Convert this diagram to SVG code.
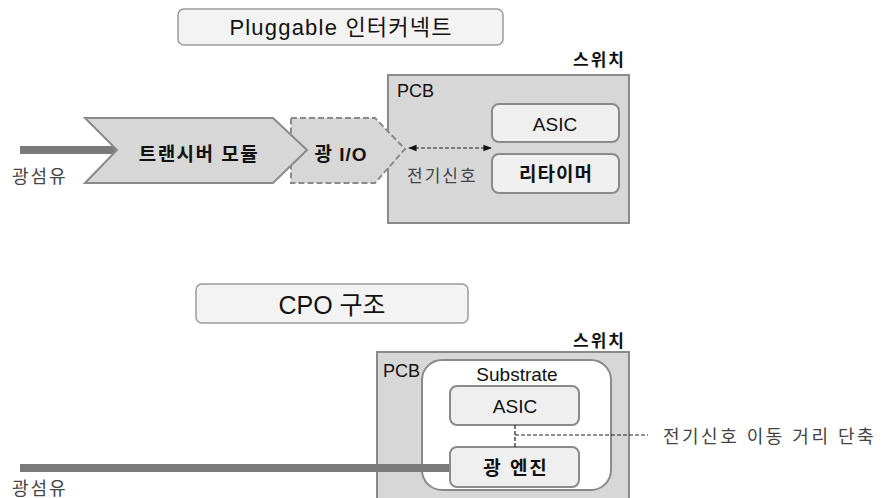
<svg xmlns="http://www.w3.org/2000/svg" width="886" height="498" viewBox="0 0 886 498">
<defs>
<style>
text{font-family:"Liberation Sans","Noto Sans CJK KR",sans-serif;fill:#111}
.title{fill:#f3f3f3;stroke:#9a9a9a;stroke-width:1.5}
.pcb{fill:#d7d7d7;stroke:#8a8a8a;stroke-width:2}
.box{fill:#efefef;stroke:#8a8a8a;stroke-width:2}
.fiber{stroke:#7a7a7a;stroke-width:8;fill:none}
.gray{fill:#444}
.bold{font-weight:bold}
.dash{stroke:#222;stroke-width:1.2;stroke-dasharray:4 2;fill:none}
</style>
<marker id="ah" viewBox="0 0 10 10" refX="9" refY="5" markerWidth="7" markerHeight="7" orient="auto-start-reverse">
<path d="M0,1 L10,5 L0,9 z" fill="#111"/>
</marker>
</defs>
<rect width="886" height="498" fill="#fff"/>

<g id="title1">
<rect class="title" x="178" y="9" width="325" height="36" rx="6"/>
<text x="341" y="35" font-size="22" letter-spacing="1.2" text-anchor="middle">Pluggable 인터커넥트</text>
</g>

<g id="switch1">
<text x="626" y="66" font-size="17" letter-spacing="2" text-anchor="end" class="bold">스위치</text>
</g>
<g id="pcb1">
<rect class="pcb" x="388" y="75" width="241" height="148"/>
<text x="397" y="97" font-size="18">PCB</text>
</g>

<g id="fiber1">
<line class="fiber" x1="20" y1="150" x2="118" y2="150"/>
<text x="12" y="183" font-size="18" letter-spacing="2" class="gray">광섬유</text>
</g>

<g id="optio1">
<polygon points="291,118 375,118 405,149 375,183 291,183" fill="#d7d7d7" stroke="#8a8a8a" stroke-width="2" stroke-dasharray="6 3"/>
<text x="341" y="161" font-size="19" letter-spacing="1" class="bold" text-anchor="middle">광 I/O</text>
</g>

<g id="transceiver">
<polygon points="85,118 273,118 307,150 273,183 85,183 117,150" fill="#d7d7d7" stroke="#8a8a8a" stroke-width="2"/>
<text x="199" y="161" font-size="19" letter-spacing="1.5" class="bold" text-anchor="middle">트랜시버 모듈</text>
</g>

<g id="asic1">
<rect class="box" x="492" y="104" width="127" height="38" rx="7"/>
<text x="555" y="131" font-size="19" text-anchor="middle">ASIC</text>
</g>
<g id="retimer">
<rect class="box" x="492" y="154" width="127" height="39" rx="7"/>
<text x="556" y="181" font-size="19" letter-spacing="1" class="bold" text-anchor="middle">리타이머</text>
</g>
<g id="elec1">
<text x="407" y="182" font-size="17" letter-spacing="2" class="gray">전기신호</text>
</g>

<g id="title2">
<rect class="title" x="196" y="284" width="272" height="39" rx="6"/>
<text x="332" y="314" font-size="25" text-anchor="middle">CPO 구조</text>
</g>

<g id="switch2">
<text x="626" y="347" font-size="17" letter-spacing="2" text-anchor="end" class="bold">스위치</text>
</g>
<g id="pcb2">
<rect class="pcb" x="377" y="352" width="252" height="160"/>
<text x="383" y="377" font-size="18">PCB</text>
</g>
<g id="substrate">
<rect x="422" y="360" width="189" height="130" rx="20" fill="#fff" stroke="#8a8a8a" stroke-width="2"/>
<text x="517" y="381" font-size="19" text-anchor="middle">Substrate</text>
</g>

<g id="fiber2">
<line class="fiber" x1="20" y1="468" x2="451" y2="468"/>
<text x="12" y="495" font-size="18" letter-spacing="2" class="gray">광섬유</text>
</g>

<g id="asic2">
<rect class="box" x="450" y="386" width="129" height="39" rx="7"/>
<text x="515" y="413" font-size="19" text-anchor="middle">ASIC</text>
</g>
<g id="engine">
<rect class="box" x="450" y="447" width="129" height="40" rx="7"/>
<text x="516" y="475" font-size="19" letter-spacing="2" class="bold" text-anchor="middle">광 엔진</text>
</g>

<g id="shortlabel">
<text x="663" y="443" font-size="18" letter-spacing="2.5" class="gray">전기신호 이동 거리 단축</text>
</g>

<g id="connectors">
<line class="dash" x1="409" y1="148" x2="491" y2="148" marker-start="url(#ah)" marker-end="url(#ah)" stroke-dasharray="3 2"/>
<line class="dash" x1="515" y1="425" x2="515" y2="447"/>
<line class="dash" x1="515" y1="435" x2="648" y2="435"/>
</g>
</svg>
